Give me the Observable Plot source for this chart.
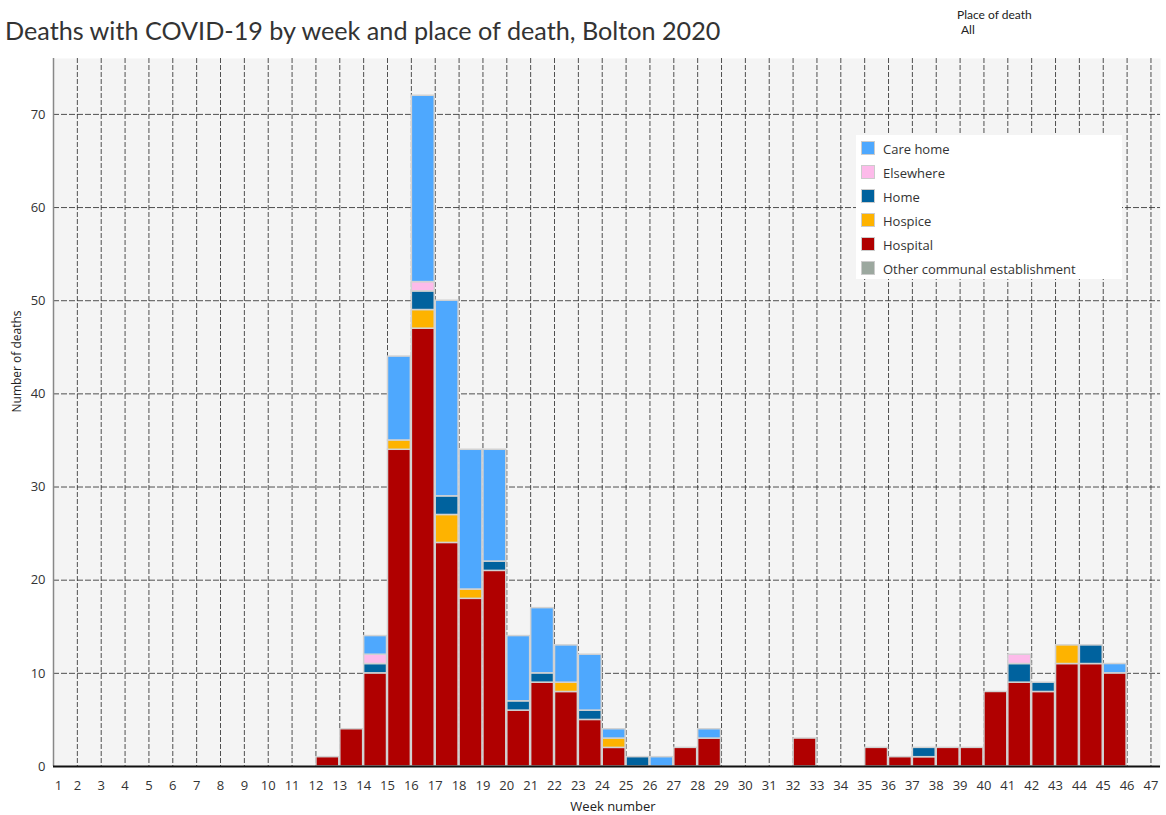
<!DOCTYPE html>
<html>
<head>
<meta charset="utf-8">
<script src="https://cdn.jsdelivr.net/npm/d3@7"></script>
<script src="https://cdn.jsdelivr.net/npm/@observablehq/plot@0.6"></script>
<style>
  body { margin: 0; background: #fff; font-family: "Open Sans", sans-serif; }
  #wrap { position: relative; width: 1166px; height: 815px; }
  #head { position: relative; height: 58px; }
  #title { position: absolute; left: 5px; top: 15px; font-family: Lato, sans-serif; font-size: 25.2px; color: #333; white-space: nowrap; }
  #filt1 { position: absolute; left: 957px; top: 7px; font-size: 12px; color: #222; font-family: Lato, sans-serif; }
  #filt2 { position: absolute; left: 961px; top: 22px; font-size: 12px; color: #222; font-family: Lato, sans-serif; }
  #legend { position: absolute; left: 856px; top: 135px; width: 266px; height: 144px; background: #fff; }
  .li { position: absolute; left: 5px; height: 16px; font-size: 13px; color: #333; white-space: nowrap; }
  .sw { position: absolute; left: 0; top: 0; width: 14px; height: 14px; border: 1px solid #ccc; box-sizing: border-box; }
  .lt { position: absolute; left: 22px; top: 0px; line-height: 16px; }
</style>
</head>
<body>
<div id="wrap">
  <div id="head">
    <div id="title">Deaths with COVID-19 by week and place of death, Bolton 2020</div>
    <div id="filt1">Place of death</div>
    <div id="filt2">All</div>
  </div>
  <div id="chart"></div>
  <div id="legend"></div>
</div>
<script>
const weeks = [12,13,14,15,16,17,18,19,20,21,22,23,24,25,26,27,28,29,30,31,32,33,34,35,36,37,38,39,40,41,42,43,44,45];
const hospital  = [1,4,10,34,47,24,18,21,6,9,8,5,2,0,0,2,3,0,0,0,3,0,0,2,1,1,2,2,8,9,8,11,11,10];
const hospice   = [0,0,0,1,2,3,1,0,0,0,1,0,1,0,0,0,0,0,0,0,0,0,0,0,0,0,0,0,0,0,0,2,0,0];
const home      = [0,0,1,0,2,2,0,1,1,1,0,1,0,1,0,0,0,0,0,0,0,0,0,0,0,1,0,0,0,2,1,0,2,0];
const elsewhere = [0,0,1,0,1,0,0,0,0,0,0,0,0,0,0,0,0,0,0,0,0,0,0,0,0,0,0,0,0,1,0,0,0,0];
const careHome  = [0,0,2,9,20,21,15,12,7,7,4,6,1,0,1,0,1,0,0,0,0,0,0,0,0,0,0,0,0,0,0,0,0,1];
const other     = weeks.map(() => 0);

const legendPlaces = ["Care home","Elsewhere","Home","Hospice","Hospital","Other communal establishment"];
const placeColors  = ["#4ea8fe","#fdbbea","#00629e","#feb300","#b00000","#9ca89f"];
const stackOrder   = ["Hospital","Hospice","Home","Elsewhere","Care home","Other communal establishment"];

const weekTicks = d3.range(1, 48);
const yTicks = [0,10,20,30,40,50,60,70];

const series = {
  "Hospital": hospital, "Hospice": hospice, "Home": home,
  "Elsewhere": elsewhere, "Care home": careHome, "Other communal establishment": other
};
const data = [];
for (const place of stackOrder) {
  weeks.forEach((w, i) => { if (series[place][i] > 0) data.push({week: w, place, value: series[place][i]}); });
}

const chart = Plot.plot({
  width: 1166,
  height: 757,
  marginLeft: 53,
  marginRight: 6,
  marginTop: 0,
  marginBottom: 49,
  style: {fontFamily: "'Open Sans', sans-serif", fontSize: "13px", color: "#333", background: "#fff"},
  x: {type: "linear", domain: [1, 47.4]},
  y: {domain: [0, 76]},
  color: {domain: legendPlaces, range: placeColors},
  marks: [
    Plot.frame({fill: "#f4f4f4", stroke: "none"}),
    Plot.ruleX(weekTicks.slice(1), {stroke: "#333", strokeWidth: 1, strokeDasharray: "5,2", strokeOpacity: 0.85}),
    Plot.ruleY(yTicks.slice(1), {stroke: "#333", strokeWidth: 1, strokeDasharray: "6,2", strokeOpacity: 0.85}),
    Plot.rectY(data, {x: "week", interval: 1, y: "value", fill: "place", order: stackOrder, stroke: "#d2d2d2", strokeWidth: 1.5, insetLeft: 0.5, insetRight: 0.5}),
    Plot.ruleX([1], {stroke: "#888", strokeWidth: 1.5}),
    Plot.ruleY([0], {stroke: "#111", strokeWidth: 2}),
    Plot.axisY({ticks: yTicks, tickSize: 0, tickPadding: 8, fontSize: 13, label: null}),
    Plot.axisX(weekTicks.slice(1), {tickSize: 0, tickPadding: 14, fontSize: 13, label: null, tickFormat: d => d}),
    Plot.axisX([1], {tickSize: 0, tickPadding: 14, fontSize: 13, label: null, tickFormat: d => d, dx: 5}),
    Plot.text(["Number of deaths"], {frameAnchor: "left", rotate: -90, dx: -36, fontSize: 12, fill: "#222"}),
    Plot.text(["Week number"], {frameAnchor: "bottom", dy: 44, dx: 6, fontSize: 13, fill: "#222"})
  ]
});
document.getElementById("chart").appendChild(chart);

const leg = document.getElementById("legend");
legendPlaces.forEach((p, i) => {
  const item = document.createElement("div");
  item.className = "li";
  item.style.top = (6 + i * 24) + "px";
  item.innerHTML = `<span class="sw" style="background:${placeColors[i]}"></span><span class="lt">${p}</span>`;
  leg.appendChild(item);
});
</script>
</body>
</html>
